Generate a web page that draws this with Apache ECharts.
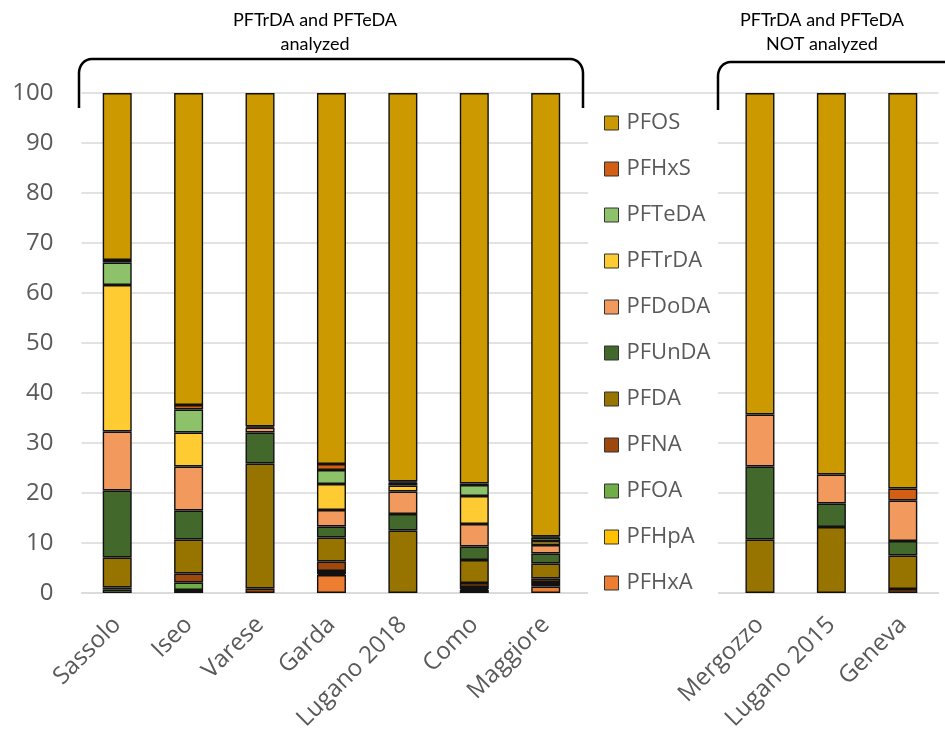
<!DOCTYPE html>
<html>
<head>
<meta charset="utf-8">
<script src="https://cdn.jsdelivr.net/npm/echarts@6/dist/echarts.min.js"></script>
<style>
  html, body { margin: 0; padding: 0; background: #fff; }
  #chart { width: 945px; height: 740px; }
</style>
</head>
<body>
<div id="chart"></div>
<script>
// Sites
const sitesAnalyzed = ['Sassolo', 'Iseo', 'Varese', 'Garda', 'Lugano 2018', 'Como', 'Maggiore'];
const sitesNotAnalyzed = ['Mergozzo', 'Lugano 2015', 'Geneva'];

// Percent contribution per compound (order: 7 analyzed sites, then 3 not-analyzed sites)
const PFHxA  = [0,    0,    0,    3.6,  0,    0.6,  1.3,   0,    0,    0];
const PFHpA  = [0,    0.6,  0,    0.2,  0,    0.2,  0.3,   0,    0,    0];
const PFOA   = [0.7,  1.5,  0,    0.6,  0,    0.4,  0.6,   0,    0,    0];
const PFNA   = [0.4,  1.8,  0.9,  1.9,  0,    0.8,  0.7,   0,    0,    0.8];
const PFDA   = [6.0,  6.8,  25.0, 4.8,  12.5, 4.6,  3.0,   10.7, 13.2, 6.7];
const PFUnDA = [13.4, 5.8,  6.2,  2.2,  3.3,  2.7,  2.0,   14.6, 4.7,  2.9];
const PFDoDA = [11.8, 8.8,  1.0,  3.3,  4.5,  4.5,  1.7,   10.4, 5.8,  8.1];
const PFTrDA = [29.3, 6.8,  0,    5.2,  1.2,  5.6,  0.8,   0,    0,    0];
const PFTeDA = [4.5,  4.6,  0,    2.8,  0.6,  2.2,  0.7,   0,    0,    0];
const PFHxS  = [0.5,  0.9,  0.2,  1.2,  0.2,  0.3,  0.2,   0,    0,    2.4];
const PFOS   = [33.4, 62.4, 66.7, 74.2, 77.7, 78.1, 88.7,  64.3, 76.3, 79.1];

const yTicks = { min: 0, max: 100, interval: 10 };
const groupNotes = ['PFTrDA and PFTeDA\nanalyzed', 'PFTrDA and PFTeDA\nNOT analyzed'];

// stacking order bottom -> top
const compounds = [
  ['PFHxA', PFHxA, '#ED7D31'],
  ['PFHpA', PFHpA, '#FFC000'],
  ['PFOA', PFOA, '#70AD47'],
  ['PFNA', PFNA, '#9E480E'],
  ['PFDA', PFDA, '#977300'],
  ['PFUnDA', PFUnDA, '#43682B'],
  ['PFDoDA', PFDoDA, '#F2995D'],
  ['PFTrDA', PFTrDA, '#FFCB33'],
  ['PFTeDA', PFTeDA, '#8DC26A'],
  ['PFHxS', PFHxS, '#D35F14'],
  ['PFOS', PFOS, '#CC9900']
];

const GAP = 2; // empty category slots between the two groups
const nA = sitesAnalyzed.length;
const categories = sitesAnalyzed.concat(Array(GAP).fill(''), sitesNotAnalyzed);
function withGap(arr) {
  const vals = arr.map(v => (v === 0 ? null : v));
  return vals.slice(0, nA).concat(Array(GAP).fill(null), vals.slice(nA));
}

const series = compounds.map(([name, vals, color]) => ({
  name: name,
  type: 'bar',
  stack: 'total',
  barWidth: 29,
  data: withGap(vals),
  itemStyle: { color: color, borderColor: '#111', borderWidth: 1.4 },
  emphasis: { disabled: true }
}));

// bracket outline helper (decoration only)
function bracketPts(x1, x2, yTop, yBot1, yBot2, r, openRight) {
  const pts = [[x1, yBot1]];
  const n = 8;
  for (let i = 0; i <= n; i++) {
    const a = Math.PI / 2 * i / n;
    pts.push([x1 + r * 0.9 * (1 - Math.cos(a)), yTop + r * (1 - Math.sin(a))]);
  }
  if (openRight) { pts.push([x2, yTop]); return pts; }
  for (let i = 0; i <= n; i++) {
    const a = Math.PI / 2 * i / n;
    pts.push([x2 - r * 0.9 * (1 - Math.sin(a)), yTop + r * (1 - Math.cos(a))]);
  }
  pts.push([x2, yBot2]);
  return pts;
}

const chart = echarts.init(document.getElementById('chart'), null, { renderer: 'canvas' });
chart.setOption({
  animation: false,
  backgroundColor: '#fff',
  grid: { left: 81.5, right: 6.5, top: 93, bottom: 147, containLabel: false, outerBoundsMode: 'none' },
  xAxis: {
    type: 'category',
    data: categories,
    axisTick: { show: false },
    axisLine: { show: true, lineStyle: { color: '#D9D9D9', width: 1.5 } },
    axisLabel: {
      interval: 0, rotate: 45, margin: 28,
      padding: [11, 0, 0, 0],
      fontFamily: 'Open Sans', fontSize: 24, color: '#595959'
    }
  },
  yAxis: {
    type: 'value',
    min: yTicks.min, max: yTicks.max, interval: yTicks.interval,
    axisLine: { show: false },
    axisTick: { show: false },
    splitLine: { lineStyle: { color: '#D9D9D9', width: 1.5 } },
    axisLabel: { margin: 28, fontFamily: 'Open Sans', fontSize: 24, color: '#595959' }
  },
  legend: {
    orient: 'vertical',
    left: 599, top: 106,
    itemWidth: 14, itemHeight: 14,
    itemGap: 22,
    icon: 'rect',
    data: compounds.map(c => c[0]).reverse(),
    itemStyle: { borderColor: '#333', borderWidth: 1 },
    textStyle: { fontFamily: 'Open Sans', fontSize: 22, color: '#595959', lineHeight: 24, padding: [0, 0, 0, 3] },
    selectedMode: false
  },
  graphic: [
    { type: 'rect', z: 3, shape: { x: 588, y: 97, width: 130, height: 500 }, style: { fill: '#fff' } },
    { type: 'polyline', z: 5, shape: { points: bracketPts(79, 583, 59, 108, 108, 14, false) },
      style: { fill: null, stroke: '#000', lineWidth: 2.5 } },
    { type: 'polyline', z: 5, shape: { points: bracketPts(718, 945, 62, 110, 110, 14, true) },
      style: { fill: null, stroke: '#000', lineWidth: 2.5 } },
    { type: 'text', z: 5, x: 315, y: 8, style: { text: groupNotes[0], font: '18px Lato', lineHeight: 24, fill: '#000', align: 'center', verticalAlign: 'top' } },
    { type: 'text', z: 5, x: 822, y: 8, style: { text: groupNotes[1], font: '18px Lato', lineHeight: 24, fill: '#000', align: 'center', verticalAlign: 'top' } }
  ],
  series: series
});
</script>
</body>
</html>
